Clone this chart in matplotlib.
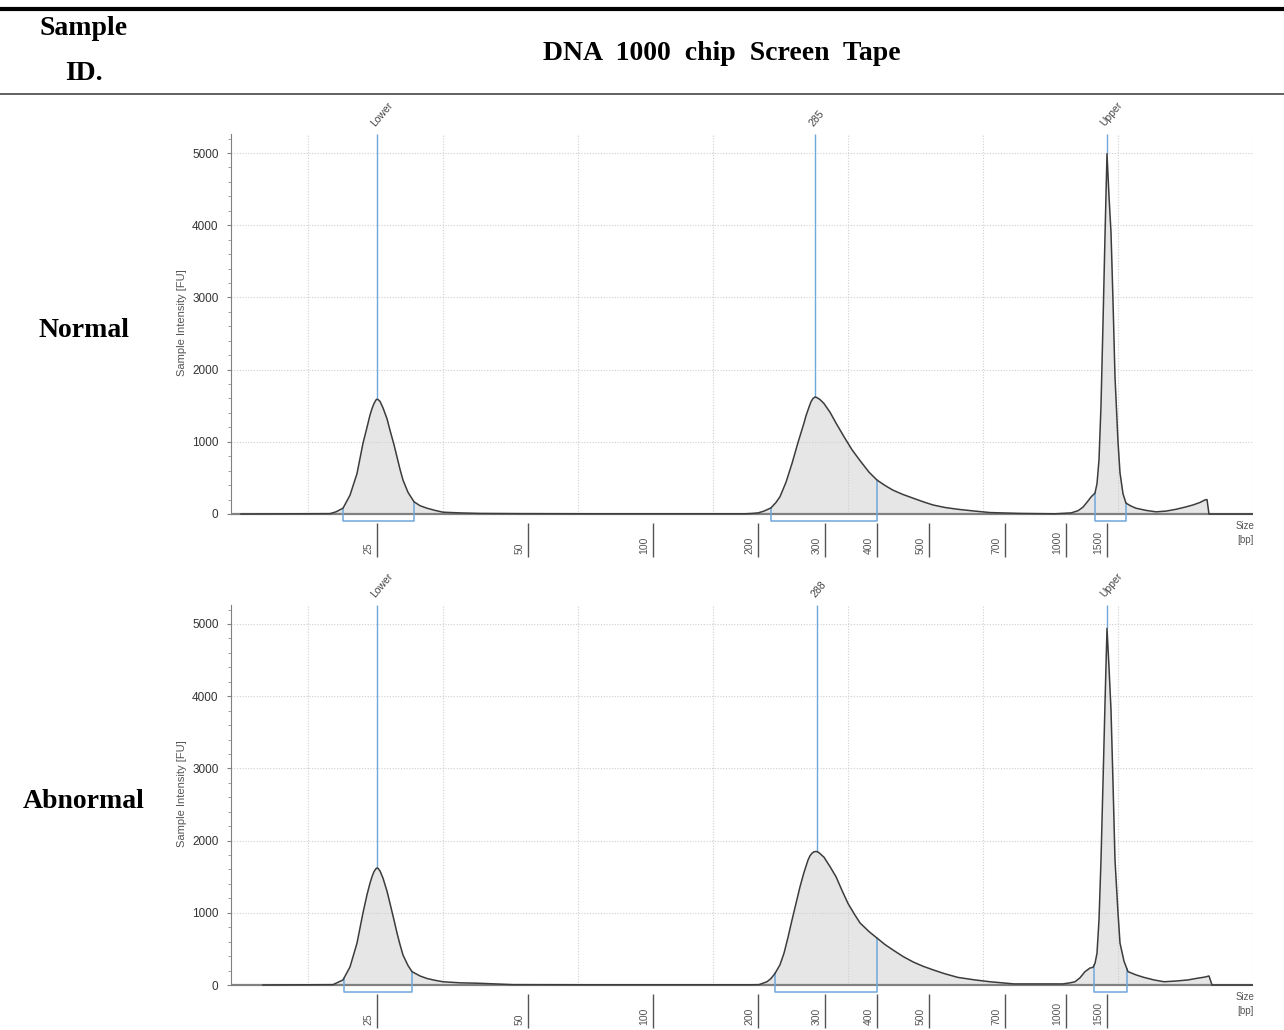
import matplotlib
matplotlib.use("Agg")
import matplotlib.pyplot as plt
from matplotlib.lines import Line2D
import numpy as np

# ---- electropherogram traces: run position (a.u.) vs intensity (FU) ----
NORMAL_POS = [
    241, 330, 336, 343, 350, 357, 363, 367, 370, 372,
    374, 376, 377, 378, 380, 383, 387, 390, 394, 397,
    400, 403, 408, 414, 420, 427, 435, 443, 460, 480,
    520, 600, 700, 745, 752, 758, 764, 771, 776, 780,
    786, 792, 798, 804, 806, 809, 811, 813, 815, 817,
    820, 824, 830, 836, 844, 852, 860, 869, 877, 885,
    893, 903, 913, 923, 933, 945, 958, 975, 990, 1020,
    1055, 1071, 1078, 1083, 1088, 1091, 1095, 1097, 1099, 1101,
    1103, 1105, 1107, 1109, 1111, 1113, 1115, 1118, 1120, 1123,
    1126, 1131, 1136, 1146, 1156, 1166, 1176, 1185, 1193, 1200,
    1205, 1207, 1209, 1253,
]
NORMAL_FU = [
    0, 5, 30, 80, 260, 560, 980, 1200, 1370, 1460,
    1530, 1580, 1590, 1585, 1560, 1470, 1320, 1160, 960, 790,
    620, 470, 300, 170, 115, 80, 50, 25, 15, 8,
    5, 3, 3, 3, 8, 15, 40, 85, 160, 240,
    440, 700, 990, 1260, 1360, 1480, 1555, 1600, 1620, 1612,
    1585, 1530, 1410, 1260, 1070, 890, 740, 580, 470, 395,
    330, 270, 220, 170, 125, 90, 65, 40, 20, 8,
    3, 15, 45, 95, 180, 235, 290, 420, 750, 1500,
    2640, 3850, 4990, 4400, 3900, 2950, 1900, 1000, 570, 280,
    150, 110, 80, 50, 30, 40, 65, 95, 125, 160,
    195, 200, 0, 0,
]

ABNORMAL_POS = [
    263, 333, 343, 350, 357, 363, 367, 370, 372, 374,
    376, 377, 378, 380, 383, 387, 390, 394, 397, 400,
    403, 408, 412, 420, 427, 435, 443, 460, 477, 513,
    600, 700, 750, 759, 767, 771, 775, 780, 784, 788,
    792, 796, 800, 804, 808, 810, 812, 814, 816, 818,
    820, 824, 830, 836, 842, 848, 854, 860, 869, 877,
    885, 893, 903, 913, 923, 933, 945, 958, 975, 990,
    1014, 1063, 1070, 1075, 1080, 1085, 1090, 1093, 1095, 1097,
    1099, 1101, 1103, 1105, 1107, 1109, 1111, 1113, 1115, 1118,
    1120, 1124, 1128, 1136, 1144, 1154, 1164, 1176, 1188, 1198,
    1205, 1209, 1212, 1253,
]
ABNORMAL_FU = [
    0, 5, 70, 250, 580, 1000, 1250, 1410, 1500, 1570,
    1612, 1620, 1615, 1580, 1480, 1300, 1130, 900, 720, 560,
    415, 270, 185, 125, 90, 65, 45, 30, 25, 5,
    3, 3, 3, 5, 45, 90, 160, 280, 440, 660,
    900, 1130, 1360, 1560, 1730, 1790, 1825, 1845, 1850, 1842,
    1820, 1770, 1640, 1500, 1310, 1130, 990, 860, 740, 650,
    560, 485, 395, 320, 260, 210, 155, 105, 70, 45,
    15, 15, 30, 45, 100, 185, 235, 245, 300, 440,
    900, 1730, 2800, 3900, 4940, 4400, 3810, 2800, 1730, 1000,
    580, 330, 185, 140, 105, 70, 45, 55, 70, 95,
    110, 125, 0, 0,
]

# peak calls
NORMAL_PEAKS = ["Lower", "285", "Upper"]
NORMAL_PEAK_POS = [377, 815, 1107]
ABNORMAL_PEAKS = ["Lower", "288", "Upper"]
ABNORMAL_PEAK_POS = [377, 817, 1107]

# integration regions (start, end)
NORMAL_REGIONS = [(343, 414), (771, 877), (1095, 1126)]
ABNORMAL_REGIONS = [(344, 412), (775, 877), (1094, 1127)]

# ladder sizes
LADDER_BP = ["25", "50", "100", "200", "300", "400", "500", "700", "1000", "1500"]
LADDER_POS = [377, 528, 653, 758, 825, 877, 929, 1005, 1066, 1107]

ROW_LABELS = ["Normal", "Abnormal"]

# ---- layout ----
W, H = 1284, 1030
X_MIN, X_MAX = 231, 1253
Y_MIN, Y_MAX = -620, 5270
PX_PER_FU = 0.0722
GRID_POS = [308, 443, 578, 713, 848, 983, 1118, 1253]
BRACKET_Y = -97
TICK_TOP, TICK_BOTTOM = -125, -595
BLUE = "#6fa8dc"
SERIF = "Liberation Serif"

plt.rcParams["font.family"] = ["Liberation Sans", "DejaVu Sans"]


def draw_panel(ax, pos, fu, peaks, peak_pos, regions):
    pos = np.asarray(pos, dtype=float)
    fu = np.asarray(fu, dtype=float)
    ax.set_xlim(X_MIN, X_MAX)
    ax.set_ylim(Y_MIN, Y_MAX)

    # dotted grid
    ax.hlines(range(1000, 6000, 1000), X_MIN, X_MAX, colors="#cfcfcf",
              linestyles=(0, (1, 1.5)), lw=0.8, zorder=1.5)
    ax.vlines(GRID_POS, 0, Y_MAX, colors="#cfcfcf",
              linestyles=(0, (1, 1.5)), lw=0.8, zorder=1.5)

    ax.fill_between(pos, fu, 0, color="#e6e6e6", lw=0, zorder=1)
    ax.plot([X_MIN, X_MAX], [0, 0], color="#808080", lw=1.6, zorder=2)
    ax.plot(pos, fu, color="#3c3c3c", lw=1.1, zorder=3)

    # peak markers
    for name, p in zip(peaks, peak_pos):
        top = np.interp(p, pos, fu)
        ax.vlines(p, top, Y_MAX, colors=BLUE, lw=1, zorder=2.5)
        ax.annotate(name, xy=(p, Y_MAX), xytext=(-3, 6), textcoords="offset points",
                    rotation=50, rotation_mode="anchor", ha="left", va="center",
                    fontsize=7.5, color="#444", annotation_clip=False)

    # integration brackets
    for a, b in regions:
        ya, yb = np.interp([a, b], pos, fu)
        ax.plot([a, a, b, b], [ya, BRACKET_Y, BRACKET_Y, yb], color=BLUE,
                lw=1.1, zorder=2.6, clip_on=False)

    # ladder size marks
    ax.vlines(LADDER_POS, TICK_TOP, TICK_BOTTOM, colors="#555", lw=1)
    for lbl, p in zip(LADDER_BP, LADDER_POS):
        ax.annotate(lbl, xy=(p, TICK_BOTTOM), xytext=(-6, 2), textcoords="offset points",
                    rotation=90, ha="center", va="bottom", fontsize=7.5, color="#555")
    ax.text(1245, -263, "Size\n[bp]", ha="center", va="center", fontsize=7,
            color="#555", linespacing=1.4)

    for side in ["top", "right", "bottom"]:
        ax.spines[side].set_visible(False)
    ax.spines["left"].set_bounds(0, Y_MAX)
    ax.spines["left"].set_color("#808080")
    ax.set_xticks([])
    ax.set_yticks(range(0, 6000, 1000))
    ax.set_yticks(np.arange(200, 5201, 200), minor=True)
    ax.tick_params(axis="y", which="major", length=3, width=0.8, color="#808080",
                   labelsize=8.5, labelcolor="#333", pad=6)
    ax.tick_params(axis="y", which="minor", length=2, width=0.6, color="#909090")
    ax.set_ylabel("Sample Intensity [FU]", fontsize=8, color="#555")
    ax.yaxis.set_label_coords(-0.043, (2645 - Y_MIN) / (Y_MAX - Y_MIN))
    ax.patch.set_alpha(0)


fig = plt.figure(figsize=(W / 100, H / 100), dpi=100)

zero_px = [514, 985]
traces = [
    (NORMAL_POS, NORMAL_FU, NORMAL_PEAKS, NORMAL_PEAK_POS, NORMAL_REGIONS),
    (ABNORMAL_POS, ABNORMAL_FU, ABNORMAL_PEAKS, ABNORMAL_PEAK_POS, ABNORMAL_REGIONS),
]
for z, (pos, fu, pk, pkp, reg), row in zip(zero_px, traces, ROW_LABELS):
    top_px = z - Y_MAX * PX_PER_FU
    bot_px = z - Y_MIN * PX_PER_FU
    ax = fig.add_axes([X_MIN / W, 1 - bot_px / H, (X_MAX - X_MIN) / W, (bot_px - top_px) / H])
    draw_panel(ax, pos, fu, pk, pkp, reg)
    fig.text(84 / W, 1 - (z - 184) / H, row, ha="center", va="center", fontsize=20,
             fontweight="bold", family=SERIF)

# table header
fig.add_artist(Line2D([0, 1], [1 - 9 / H] * 2, color="black", lw=3))
fig.add_artist(Line2D([0, 1], [1 - 94 / H] * 2, color="#555", lw=1.3))
fig.text(84 / W, 1 - 29 / H, "Sample", ha="center", va="center", fontsize=20,
         fontweight="bold", family=SERIF)
fig.text(84 / W, 1 - 74 / H, "ID.", ha="center", va="center", fontsize=20,
         fontweight="bold", family=SERIF)
fig.text(722 / W, 1 - 53 / H, "DNA  1000  chip  Screen  Tape", ha="center", va="center",
         fontsize=20, fontweight="bold", family=SERIF)

fig.savefig("out.png", dpi=100)
